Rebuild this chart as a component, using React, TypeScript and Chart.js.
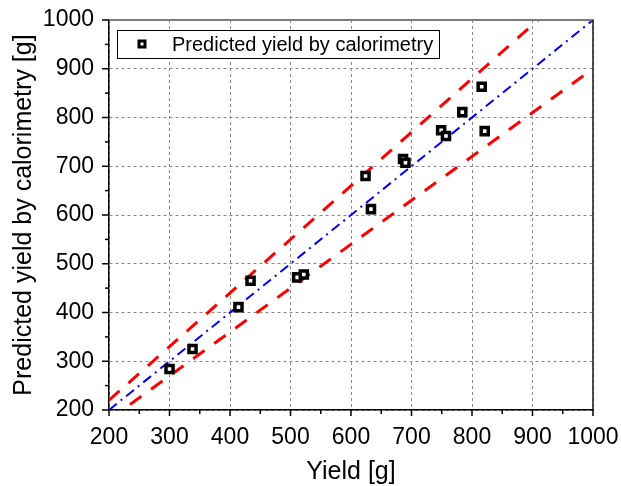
import { useEffect, useRef } from 'react';
import { Chart, registerables } from 'chart.js';

Chart.register(...registerables);

// Measured yield vs. yield predicted by calorimetry (grams)
const measuredYield = [300, 338, 414, 434, 511, 522, 633, 624, 686, 690, 749, 757, 784, 816, 821];
const predictedYield = [284, 325, 411, 465, 472, 478, 612, 680, 715, 707, 774, 762, 811, 863, 772];

// Reference lines: 1:1 line and the +/-10 % band
const identityLine = [
  { x: 200, y: 200 },
  { x: 1000, y: 1000 },
];
const upperBand = [
  { x: 200, y: 220 },
  { x: 1000, y: 1100 },
];
const lowerBand = [
  { x: 200, y: 180 },
  { x: 1000, y: 900 },
];

const majorTicks = [200, 300, 400, 500, 600, 700, 800, 900, 1000];
const minorTicks = [250, 350, 450, 550, 650, 750, 850, 950];

const legendLabel = 'Predicted yield by calorimetry';
const xTitle = 'Yield [g]';
const yTitle = 'Predicted yield by calorimetry [g]';

const FONT = '"Liberation Sans", Arial, Helvetica, sans-serif';

const framePlugin = {
  id: 'frameTicksLegend',
  afterDraw(chart: any) {
    const { ctx, chartArea: a, scales } = chart;
    const xs = scales.x;
    const ys = scales.y;
    ctx.save();

    // top and right edges of the frame
    ctx.setLineDash([]);
    ctx.lineWidth = 2;
    ctx.strokeStyle = '#7c7c7c';
    ctx.beginPath();
    ctx.moveTo(a.left, a.top);
    ctx.lineTo(a.right + 1, a.top);
    ctx.stroke();
    ctx.lineWidth = 1.5;
    ctx.strokeStyle = '#141428';
    ctx.beginPath();
    ctx.moveTo(a.right, a.top);
    ctx.lineTo(a.right, a.bottom);
    ctx.stroke();

    // outward tick marks, major and minor
    ctx.strokeStyle = '#000';
    ctx.lineWidth = 1.5;
    const drawX = (v: number, len: number) => {
      const px = xs.getPixelForValue(v);
      ctx.beginPath();
      ctx.moveTo(px, a.bottom);
      ctx.lineTo(px, a.bottom + len);
      ctx.stroke();
    };
    const drawY = (v: number, len: number) => {
      const py = ys.getPixelForValue(v);
      ctx.beginPath();
      ctx.moveTo(a.left, py);
      ctx.lineTo(a.left - len, py);
      ctx.stroke();
    };
    majorTicks.forEach((v) => {
      drawX(v, 6);
      drawY(v, 7);
    });
    minorTicks.forEach((v) => {
      drawX(v, 4);
      drawY(v, 4);
    });

    // legend box
    const bx = a.left + 8;
    const by = a.top + 10;
    const bw = 322;
    const bh = 28;
    ctx.fillStyle = '#fff';
    ctx.fillRect(bx, by, bw, bh);
    ctx.lineWidth = 1;
    ctx.strokeStyle = '#000';
    ctx.strokeRect(bx + 0.5, by + 0.5, bw, bh);

    const mx = bx + 25;
    const my = by + 14;
    ctx.lineWidth = 3;
    ctx.strokeStyle = '#000';
    ctx.fillStyle = '#fff';
    ctx.fillRect(mx - 3, my - 3, 6, 6);
    ctx.strokeRect(mx - 3, my - 3, 6, 6);

    ctx.fillStyle = '#000';
    ctx.font = `20px ${FONT}`;
    ctx.textAlign = 'left';
    ctx.textBaseline = 'middle';
    ctx.fillText(legendLabel, bx + 55, my + 1);

    ctx.restore();
  },
};

export default function App() {
  const canvasRef = useRef<HTMLCanvasElement | null>(null);

  useEffect(() => {
    document.body.style.margin = '0';
    const canvas = canvasRef.current;
    if (!canvas) return;

    const points = measuredYield.map((x, i) => ({ x, y: predictedYield[i] }));

    const chart = new Chart(canvas, {
      type: 'scatter',
      data: {
        datasets: [
          {
            label: legendLabel,
            data: points,
            pointStyle: 'rect',
            pointRadius: 5,
            pointBorderWidth: 3.5,
            pointBorderColor: '#000',
            pointBackgroundColor: '#fff',
            showLine: false,
          },
          {
            label: '1:1',
            data: identityLine,
            showLine: true,
            pointRadius: 0,
            borderColor: '#0000ff',
            borderWidth: 2,
            borderDash: [10, 5, 2, 5],
          },
          {
            label: '+10%',
            data: upperBand,
            showLine: true,
            pointRadius: 0,
            borderColor: '#ff0000',
            borderWidth: 3,
            borderDash: [14, 12],
          },
          {
            label: '-10%',
            data: lowerBand,
            showLine: true,
            pointRadius: 0,
            borderColor: '#ff0000',
            borderWidth: 3,
            borderDash: [14, 12],
          },
        ],
      },
      options: {
        responsive: false,
        animation: false,
        layout: { padding: { top: 20, right: 28, left: 0, bottom: 0 } },
        plugins: {
          legend: { display: false },
          tooltip: { enabled: false },
        },
        scales: {
          x: {
            type: 'linear',
            min: 200,
            max: 1000,
            afterBuildTicks: (scale: any) => {
              scale.ticks = majorTicks.map((value) => ({ value }));
            },
            afterFit: (scale: any) => {
              scale.height = 76;
              scale.paddingLeft = 0;
              scale.paddingRight = 0;
            },
            ticks: {
              color: '#000',
              padding: 14,
              maxRotation: 0,
              autoSkip: false,
              callback: (value: any) => String(value),
              font: { family: FONT, size: 23 },
            },
            grid: {
              color: '#8a8a8a',
              lineWidth: 1,
              drawTicks: false,
            },
            border: { color: '#000', width: 1.5, dash: [3, 3] },
            title: {
              display: true,
              text: xTitle,
              color: '#000',
              font: { family: FONT, size: 25 },
              padding: { top: 0, bottom: -1 },
            },
          },
          y: {
            type: 'linear',
            min: 200,
            max: 1000,
            afterBuildTicks: (scale: any) => {
              scale.ticks = majorTicks.map((value) => ({ value }));
            },
            afterFit: (scale: any) => {
              scale.width = 109;
              scale.paddingTop = 0;
              scale.paddingBottom = 0;
            },
            ticks: {
              color: '#000',
              padding: 15,
              autoSkip: false,
              callback: (value: any) => String(value),
              font: { family: FONT, size: 23 },
            },
            grid: {
              color: '#8a8a8a',
              lineWidth: 1,
              drawTicks: false,
            },
            border: { color: '#000', width: 1.5, dash: [3, 3] },
            title: {
              display: true,
              text: yTitle,
              color: '#000',
              font: { family: FONT, size: 25 },
              padding: { top: 9, bottom: 0 },
            },
          },
        },
      },
      plugins: [framePlugin],
    });

    return () => chart.destroy();
  }, []);

  return (
    <canvas
      ref={canvasRef}
      width={621}
      height={486}
      style={{ display: 'block', position: 'absolute', left: 0, top: 0, width: 621, height: 486 }}
    />
  );
}
